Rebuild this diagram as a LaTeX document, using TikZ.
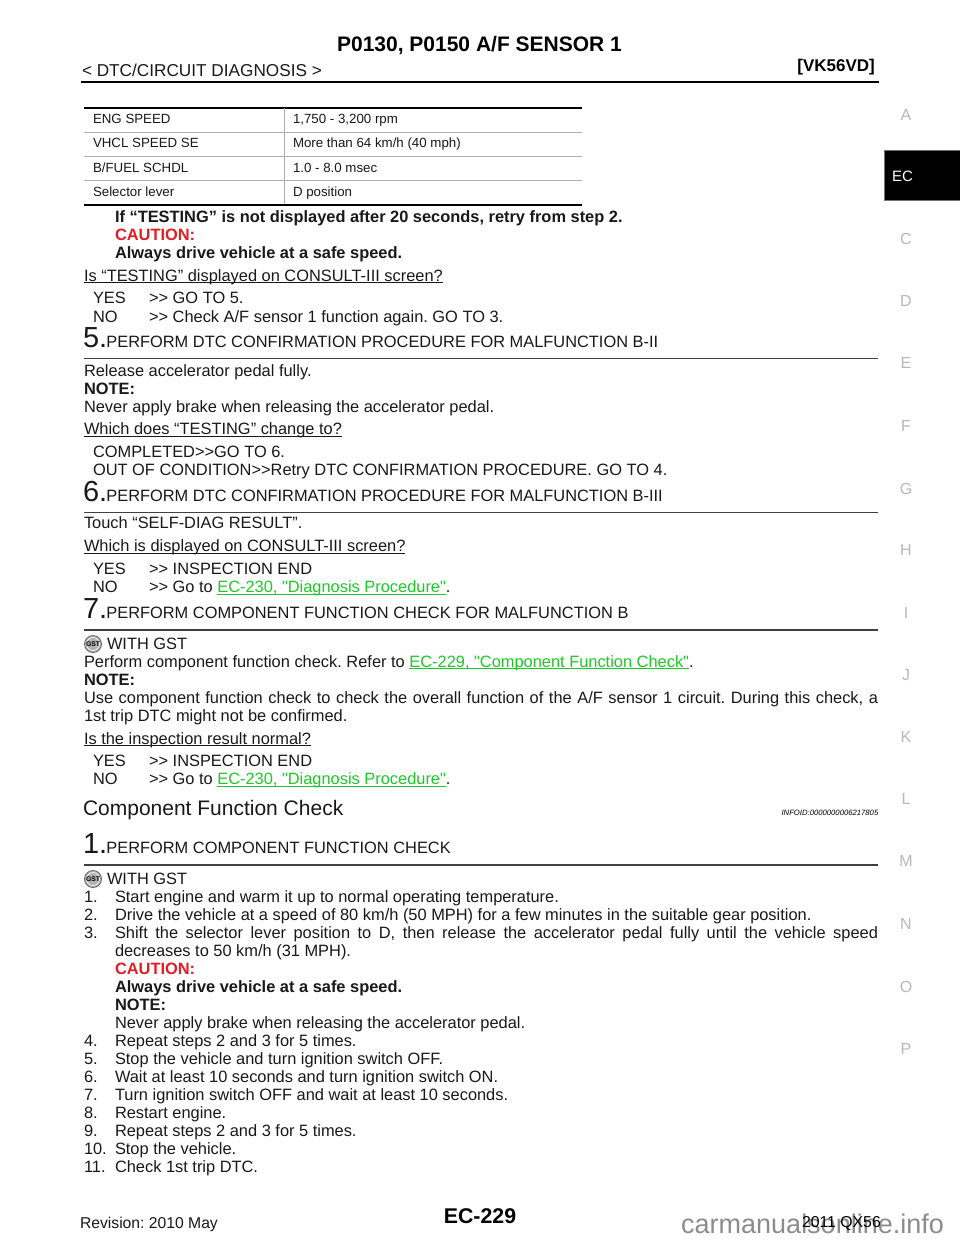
\documentclass[tikz,border=0pt]{standalone}
\usepackage{fontspec}
\setmainfont{Liberation Sans}[Ligatures=TeXOff]
\definecolor{linkgreen}{RGB}{30,200,40}
\definecolor{cautionred}{RGB}{225,30,35}
\definecolor{tabgray}{RGB}{175,175,175}
\newcounter{tn}
\newcommand{\body}{\fontsize{16.4}{18}\selectfont}
\newcommand{\T}[3]{\stepcounter{tn}\node[txt,name=t\arabic{tn}] at (#1,-#2) {#3};}
\newcommand{\B}[3]{\T{#1}{#2}{\bfseries #3}}
\newcommand{\J}[4]{\T{#1}{#2}{\makebox[#3pt][s]{#4}}}
\newcommand{\U}[1]{\setbox0\hbox{#1}\rlap{\rule[-2.2pt]{\wd0}{.9pt}}\box0}
\newcommand{\LK}[1]{\textcolor{linkgreen}{\U{#1}}}
\newcommand{\TB}[3]{\stepcounter{tn}\node[tab,name=t\arabic{tn}] at (#1,-#2) {#3};}
\newcommand{\STEP}[3]{\stepcounter{tn}\node[txt,name=t\arabic{tn}] at (83,-#1) {\fontsize{29}{30}\selectfont #2.\hspace{-.8pt}\body #3};\draw[steprule] (84,-#1-11.5) -- (878,-#1-11.5);}
\newcommand{\GST}[2]{\node[circle,draw=black!60,fill=black!30,line width=.8pt,minimum size=17pt,inner sep=0pt,name=#2] at (93,-#1) {};\node[circle,draw=white,line width=.6pt,minimum size=13pt,inner sep=0pt,name=#2x] at (93,-#1) {};\node[inner sep=0pt,name=#2t] at (93,-#1) {\fontsize{6.8}{7}\selectfont\bfseries GST};}
\tikzset{x=1pt,y=1pt,
 txt/.style={anchor=base west,inner sep=0pt,outer sep=0pt,font=\body\frenchspacing,text=black!90},
 tab/.style={txt,font=\fontsize{13.3}{14}\selectfont\frenchspacing},
 side/.style={anchor=base,inner sep=0pt,font=\fontsize{16}{18}\selectfont,text=black!28},
 steprule/.style={line width=1.3pt,draw=black!75},
 thick rule/.style={line width=2pt,draw=black},
 thin rule/.style={line width=.9pt,draw=tabgray}}
\begin{document}
\begin{tikzpicture}
\useasboundingbox (0,0) rectangle (960,-1242);
\fill[white] (0,0) rectangle (960,-1242);
% header
\node[anchor=base,inner sep=0pt,font=\fontsize{21}{24}\selectfont\bfseries,name=title] at (479.5,-51) {P0130, P0150 A/F SENSOR 1};
\T{82}{76}{\fontsize{17.2}{18}\selectfont < DTC/CIRCUIT DIAGNOSIS >}
\node[anchor=base east,inner sep=0pt,font=\fontsize{17}{18}\selectfont\bfseries,name=eng] at (875,-71) {[VK56VD]};
\draw[line width=2.4pt] (81,-82) -- (879,-82);
% tab
\filldraw[fill=black,draw=black!55,line width=.6pt] (884.5,-150.5) rectangle (961,-200.5);
\node[anchor=base west,inner sep=0pt,font=\fontsize{15}{18}\selectfont,text=white,name=ec] at (892,-181.5) {EC};
\foreach \l/\y in {A/120,C/244,D/306,E/368,F/431,G/494,H/555,I/618,J/680,K/742,L/804,M/866,N/929,O/992,P/1054}
 \node[side,name=side\l] at (906,-\y) {\l};
% table
\draw[thick rule] (84,-107.5) -- (582,-107.5);
\draw[thick rule] (84,-204.5) -- (582,-204.5);
\draw[thin rule] (84,-132) -- (582,-132);
\draw[thin rule] (84,-156.5) -- (582,-156.5);
\draw[thin rule] (84,-180.5) -- (582,-180.5);
\draw[thin rule] (284,-108) -- (284,-204);
\TB{93}{123}{ENG SPEED}\TB{293}{123}{1,750 - 3,200 rpm}
\TB{93}{147.5}{VHCL SPEED SE}\TB{293}{147.5}{More than 64 km/h (40 mph)}
\TB{93}{172}{B/FUEL SCHDL}\TB{293}{172}{1.0 - 8.0 msec}
\TB{93}{196.5}{Selector lever}\TB{293}{196.5}{D position}
% text
\B{115}{222}{If “TESTING” is not displayed after 20 seconds, retry from step 2.}
\T{115}{240}{\bfseries\textcolor{cautionred}{CAUTION:}}
\B{115}{258}{Always drive vehicle at a safe speed.}
\T{84}{281}{\U{Is “TESTING” displayed on CONSULT-III screen?}}
\T{93}{303.5}{YES}\T{149}{303.5}{>> GO TO 5.}
\T{93}{322}{NO}\T{149}{322}{>> Check A/F sensor 1 function again. GO TO 3.}
\STEP{347}{5}{PERFORM DTC CONFIRMATION PROCEDURE FOR MALFUNCTION B-II}
\T{84}{376}{Release accelerator pedal fully.}
\B{84}{394}{NOTE:}
\T{84}{412}{Never apply brake when releasing the accelerator pedal.}
\T{84}{434.5}{\U{Which does “TESTING” change to?}}
\T{93}{457}{COMPLETED>>GO TO 6.}
\T{93}{475}{OUT OF CONDITION>>Retry DTC CONFIRMATION PROCEDURE. GO TO 4.}
\STEP{501}{6}{PERFORM DTC CONFIRMATION PROCEDURE FOR MALFUNCTION B-III}
\T{84}{528.5}{Touch “SELF-DIAG RESULT”.}
\T{84}{551.5}{\U{Which is displayed on CONSULT-III screen?}}
\T{93}{574.5}{YES}\T{149}{574.5}{>> INSPECTION END}
\T{93}{592.5}{NO}\T{149}{592.5}{>> Go to \LK{EC-230, "Diagnosis Procedure"}.}
\STEP{618.5}{7}{PERFORM COMPONENT FUNCTION CHECK FOR MALFUNCTION B}
\GST{644}{gsta}
\T{107}{649}{WITH GST}
\T{84}{667}{Perform component function check. Refer to \LK{EC-229, "Component Function Check"}.}
\B{84}{685}{NOTE:}
\J{84}{703}{794}{Use component function check to check the overall function of the A/F sensor 1 circuit. During this check, a}
\T{84}{721}{1st trip DTC might not be confirmed.}
\T{84}{744}{\U{Is the inspection result normal?}}
\T{93}{766.5}{YES}\T{149}{766.5}{>> INSPECTION END}
\T{93}{784.5}{NO}\T{149}{784.5}{>> Go to \LK{EC-230, "Diagnosis Procedure"}.}
\T{83}{815.5}{\fontsize{21}{26}\selectfont Component Function Check}
\node[anchor=base east,inner sep=0pt,font=\fontsize{7.7}{9}\selectfont\itshape,name=info] at (878.5,-815) {INFOID:0000000006217805};
\STEP{853.5}{1}{PERFORM COMPONENT FUNCTION CHECK}
\GST{879}{gstb}
\T{107}{884}{WITH GST}
\T{84}{902}{1.}\T{115}{902}{Start engine and warm it up to normal operating temperature.}
\T{84}{920}{2.}\T{115}{920}{Drive the vehicle at a speed of 80 km/h (50 MPH) for a few minutes in the suitable gear position.}
\T{84}{938}{3.}\J{115}{938}{763}{Shift the selector lever position to D, then release the accelerator pedal fully until the vehicle speed}
\T{115}{956}{decreases to 50 km/h (31 MPH).}
\T{115}{974}{\bfseries\textcolor{cautionred}{CAUTION:}}
\B{115}{992}{Always drive vehicle at a safe speed.}
\B{115}{1010}{NOTE:}
\T{115}{1028}{Never apply brake when releasing the accelerator pedal.}
\T{84}{1046}{4.}\T{115}{1046}{Repeat steps 2 and 3 for 5 times.}
\T{84}{1064}{5.}\T{115}{1064}{Stop the vehicle and turn ignition switch OFF.}
\T{84}{1082}{6.}\T{115}{1082}{Wait at least 10 seconds and turn ignition switch ON.}
\T{84}{1100}{7.}\T{115}{1100}{Turn ignition switch OFF and wait at least 10 seconds.}
\T{84}{1118}{8.}\T{115}{1118}{Restart engine.}
\T{84}{1136}{9.}\T{115}{1136}{Repeat steps 2 and 3 for 5 times.}
\T{84}{1154.5}{10.}\T{115}{1154.5}{Stop the vehicle.}
\T{84}{1172.5}{11.}\T{115}{1172.5}{Check 1st trip DTC.}
% footer
\T{80}{1228}{\fontsize{15.7}{16}\selectfont Revision: 2010 May}
\node[anchor=base,inner sep=0pt,font=\fontsize{21.3}{24}\selectfont\bfseries,name=page] at (480,-1223.5) {EC-229};
\node[anchor=base west,inner sep=0pt,font=\fontsize{27}{28}\selectfont,text=black!45,name=wm] at (681,-1233) {carmanualsonline.info};
\node[anchor=base east,inner sep=0pt,font=\fontsize{15.8}{16}\selectfont\frenchspacing,name=qx] at (881,-1227.5) {2011 QX56};
\end{tikzpicture}
\end{document}
